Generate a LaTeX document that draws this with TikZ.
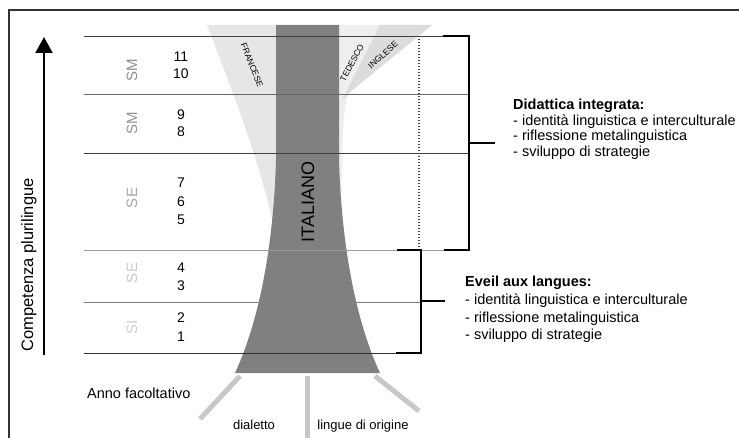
\documentclass[tikz,border=0pt]{standalone}
\usepackage{fontspec}
\setmainfont{Liberation Sans}
\usetikzlibrary{arrows.meta}
\definecolor{italgray}{HTML}{808080}
\definecolor{frgray}{HTML}{E6E6E6}
\definecolor{degray}{HTML}{EEEEEE}
\definecolor{engray}{HTML}{DCDCDC}
\definecolor{stubgray}{HTML}{C8C8C8}
\definecolor{framegray}{HTML}{333333}
\begin{document}
\begin{tikzpicture}[x=1pt,y=-1pt,
  rowline/.style={line width=0.8pt},
  bracketline/.style={line width=2.2pt, black, line join=miter},
  num/.style={font=\fontsize{14}{14}\selectfont, inner sep=0pt},
  lvl/.style={font=\fontsize{15}{15}\selectfont, rotate=90, inner sep=0pt},
  desc/.style={font=\fontsize{14.5}{15}\selectfont, anchor=base west, inner sep=0pt},
  desctitle/.style={desc, font=\fontsize{14.5}{15}\selectfont\bfseries},
  langlbl/.style={font=\fontsize{8.5}{8.5}\selectfont, inner sep=0pt},
  stub/.style={line width=5pt, stubgray},
  bottomlbl/.style={font=\fontsize{13}{13}\selectfont, anchor=base, inner sep=0pt}]
\useasboundingbox (0,0) rectangle (739,438);

% frame
\draw[line width=1.3pt, framegray] (9,445) -- (9,10) -- (745,10);

% light language regions
\fill[frgray] (207,25) -- (277,25) -- (277,240) .. controls (262,170) and (240,110) .. (207,25) -- cycle;
\fill[degray] (338,25) -- (432,25) -- (350,92) .. controls (343,100) and (342,130) .. (341,240) -- (338,240) -- cycle;
\fill[engray] (380,25) -- (432,25) -- (350,92) .. controls (345,97) and (343,100) .. (342,100) -- cycle;

% italiano
\fill[italgray] (276,25) -- (339,25) -- (339,160) .. controls (342,260) and (360,330) .. (380,373) -- (235,373) .. controls (255,330) and (273,260) .. (276,160) -- cycle;

% bottom stubs
\draw[stub] (240,376) -- (200,419);
\draw[stub] (307,376) -- (307,445);
\draw[stub] (375,376) -- (419,411);

% row lines
\draw[rowline, black!75] (84,36) -- (469,36);
\draw[rowline, black!60] (84,94) -- (469,94);
\draw[rowline, black!75] (84,153) -- (469,153);
\draw[rowline, black!40] (84,250) -- (469,250);
\draw[rowline, black!50] (84,302) -- (421,302);
\draw[rowline, black!80] (84,353) -- (421,353);

% dotted line
\draw[line width=1.2pt, black!75, dash pattern=on 1.4pt off 1.6pt] (419,36) -- (419,250);

% brackets
\coordinate (b1a) at (443,36);
\coordinate (b1b) at (469,36);
\coordinate (b1c) at (469,250);
\coordinate (b1d) at (444,250);
\coordinate (b1m) at (469,143);
\coordinate (b1t) at (495,143);
\draw[bracketline] (b1a) -- (b1b) -- (b1c) -- (b1d);
\draw[bracketline] (b1m) -- (b1t);
\coordinate (b2a) at (397,250);
\coordinate (b2b) at (421,250);
\coordinate (b2c) at (421,353);
\coordinate (b2d) at (396,353);
\coordinate (b2m) at (421,301);
\coordinate (b2t) at (445,301);
\draw[bracketline] (b2a) -- (b2b) -- (b2c) -- (b2d);
\draw[bracketline] (b2m) -- (b2t);

% competence arrow
\coordinate (arrowfoot) at (44,355);
\coordinate (arrowtip) at (44,37);
\draw[line width=2pt, black, -{Triangle[length=16pt,width=17pt]}] (arrowfoot) -- (arrowtip);
\node[font=\fontsize{16.5}{16.5}\selectfont, rotate=90, anchor=base, inner sep=0pt] (comp) at (33,265) {Competenza plurilingue};

% level labels
\node[lvl, text=black!45] (sm1) at (132,70) {SM};
\node[lvl, text=black!42] (sm2) at (132,123) {SM};
\node[lvl, text=black!35] (se1) at (132,198) {SE};
\node[lvl, text=black!20] (se2) at (132,273) {SE};
\node[lvl, text=black!18] (si) at (132,327) {SI};

% year numbers
\node[num] (n11) at (181,57) {11};
\node[num] (n10) at (181,74) {10};
\node[num] (n9) at (181,115) {9};
\node[num] (n8) at (181,132) {8};
\node[num] (n7) at (181,183) {7};
\node[num] (n6) at (181,202) {6};
\node[num] (n5) at (181,220) {5};
\node[num] (n4) at (181,268) {4};
\node[num] (n3) at (181,286) {3};
\node[num] (n2) at (181,318) {2};
\node[num] (n1) at (181,337) {1};

% language labels
\node[font=\fontsize{18}{18}\selectfont, rotate=90, anchor=base, inner sep=0pt] (ital) at (314,202) {ITALIANO};
\node[langlbl, rotate=-68] (fr) at (252,65) {FRANCESE};
\node[langlbl, rotate=62] (de) at (352,63) {TEDESCO};
\node[langlbl, rotate=42] (en) at (383,55) {INGLESE};

% descriptions
\node[desctitle] (dt) at (513,110) {Didattica integrata:};
\node[desc] (d1) at (513,125.5) {- identità linguistica e interculturale};
\node[desc] (d2) at (513,141) {- riflessione metalinguistica};
\node[desc] (d3) at (513,156.5) {- sviluppo di strategie};
\node[desctitle] (et) at (465,287) {Eveil aux langues:};
\node[desc] (e1) at (465,305) {- identità linguistica e interculturale};
\node[desc] (e2) at (465,322.5) {- riflessione metalinguistica};
\node[desc] (e3) at (465,340) {- sviluppo di strategie};

% bottom labels
\node[desc] (anno) at (87,398) {Anno facoltativo};
\node[bottomlbl] (dial) at (254,429) {dialetto};
\node[bottomlbl] (orig) at (363,429) {lingue di origine};
\end{tikzpicture}
\end{document}
